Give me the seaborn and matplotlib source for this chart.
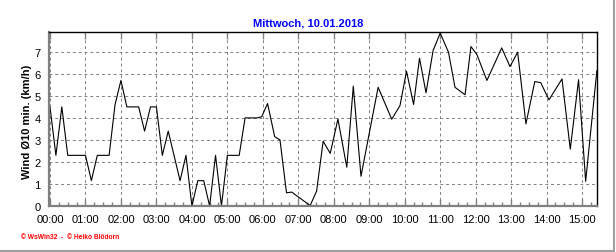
import matplotlib
matplotlib.use("Agg")
import matplotlib.pyplot as plt
from matplotlib.lines import Line2D
from matplotlib.ticker import MultipleLocator, FixedLocator
import seaborn as sns
import pandas as pd
import numpy as np

# time of each reading (minutes after midnight) and wind speed (km/h)
minutes = [0, 10, 20, 30, 60, 70, 80, 100, 110, 120, 130, 150, 160, 170, 180,
           190, 200, 220, 230, 240, 250, 260, 270, 280, 290, 300, 320, 330, 350,
           358, 368, 380, 389, 400, 409, 417, 440, 451, 462, 474, 487, 502, 513,
           526, 555, 578, 592, 603, 615, 625, 636, 648, 660, 674, 685, 702, 712,
           722, 739, 764, 778, 791, 805, 820, 830, 844, 866, 880, 894, 906, 925]
wind = [4.5, 2.3, 4.5, 2.3, 2.3, 1.15, 2.3, 2.3, 4.6, 5.7, 4.5, 4.5, 3.4, 4.5, 4.5,
        2.3, 3.4, 1.15, 2.3, 0.0, 1.15, 1.15, 0.0, 2.3, 0.0, 2.3, 2.3, 4.0, 4.0,
        4.05, 4.65, 3.15, 3.0, 0.6, 0.63, 0.47, 0.02, 0.68, 2.94, 2.39, 3.95, 1.76, 5.44,
        1.35, 5.39, 3.94, 4.56, 6.12, 4.61, 6.71, 5.14, 7.06, 7.85, 6.98, 5.39, 5.05, 7.24,
        6.88, 5.7, 7.18, 6.33, 6.98, 3.73, 5.65, 5.6, 4.82, 5.77, 2.58, 5.73, 1.12, 6.15]

hour_ticks = list(range(16))
hour_labels = ["00:00", "01:00", "02:00", "03:00", "04:00", "05:00", "06:00", "07:00",
               "08:00", "09:00", "10:00", "11:00", "12:00", "13:00", "14:00", "15:00"]
y_ticks = [0, 1, 2, 3, 4, 5, 6, 7]

title = "Mittwoch, 10.01.2018"
ylabel = "Wind Ø10 min. (km/h)"
footer = "© WsWin32  -  © Heiko Blödorn"

sns.set_theme(style="white")
plt.rcParams['font.family'] = ['Liberation Sans', 'DejaVu Sans']

W, H = 616, 253
fig = plt.figure(figsize=(W / 100, H / 100), dpi=100)
fig.patch.set_facecolor("white")
ax = fig.add_axes([49 / W, 1 - 207 / H, (597 - 49) / W, (207 - 33) / H])

df = pd.DataFrame({"hour": np.array(minutes) / 60.0, "wind": wind})
sns.lineplot(data=df, x="hour", y="wind", ax=ax, color="black", linewidth=0.8,
             estimator=None, sort=False)

ax.set_xlim(-0.028, 15.42)
ax.set_ylim(0, 7.9)
ax.xaxis.set_major_locator(FixedLocator(hour_ticks))
ax.set_xticklabels(hour_labels)
ax.xaxis.set_minor_locator(MultipleLocator(0.25))
ax.set_yticks(y_ticks)
ax.set_yticklabels([str(v) for v in y_ticks])
ax.set_xlabel("")
ax.set_ylabel("")

ax.grid(True, which="major", color="#808080", linestyle=(0, (3, 3)), linewidth=0.7)
ax.set_axisbelow(True)

ax.tick_params(axis="x", which="major", direction="in", length=5, width=1,
               color="#808080", bottom=True, top=True, labelsize=8, pad=6,
               labelcolor="black")
ax.tick_params(axis="x", which="minor", direction="in", length=3, width=1,
               color="#808080", bottom=True, top=False)
ax.tick_params(axis="y", which="both", left=False, length=0, labelsize=8, pad=6,
               labelcolor="black")

for side in ("left", "bottom"):
    ax.spines[side].set_color("#808080")
    ax.spines[side].set_linewidth(1.6)
for side in ("top", "right"):
    ax.spines[side].set_color("black")
    ax.spines[side].set_linewidth(1.0)

fig.text(308 / W, 1 - 23 / H, title, color="#0000FF", fontweight="bold",
         fontsize=8, ha="center", va="center")
fig.text(27 / W, 1 - 122 / H, ylabel, color="black", fontweight="bold",
         fontsize=8, rotation=90, ha="center", va="center")
fig.text(21 / W, 1 - 238 / H, footer, color="#FF0000", fontweight="bold",
         fontsize=4.8, ha="left", va="center")

fig.add_artist(Line2D([613.5 / W, 613.5 / W], [1 - 251.5 / H, 1.0],
                      transform=fig.transFigure, color="#a0a0a0", linewidth=1.5))
fig.add_artist(Line2D([0, 613.5 / W], [1 - 251.5 / H, 1 - 251.5 / H],
                      transform=fig.transFigure, color="#a0a0a0", linewidth=1.5))

fig.savefig("out.png", dpi=100, facecolor="white")
